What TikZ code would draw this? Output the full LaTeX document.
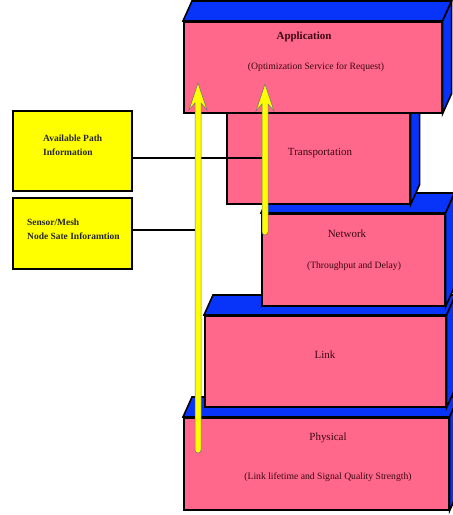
\documentclass[tikz,border=0pt]{standalone}
\usepackage{fontspec}
\setmainfont{Liberation Serif}
\usetikzlibrary{calc}
\definecolor{layerpink}{RGB}{255,104,138}
\definecolor{layerblue}{RGB}{8,52,250}
\definecolor{infoyellow}{RGB}{255,255,0}
\definecolor{labelred}{RGB}{60,8,20}
\newcommand\threedfaces[1]{%
  \filldraw[sideface] (#1.north west) -- ([shift={(9,-20)}]#1.north west) -- ([shift={(9,-20)}]#1.north east) -- (#1.north east) -- cycle;
  \filldraw[sideface] (#1.north east) -- ([shift={(9,-20)}]#1.north east) -- ([shift={(9,-20)}]#1.south east) -- (#1.south east) -- cycle;}
\newcommand\fatarrow[2]{%
  \filldraw[yellowarrow] ($(#1)+(-3,0)$) -- ($(#2)+(-3,20)$) -- ($(#2)+(-9,27)$) -- (#2) -- ($(#2)+(9,27)$) -- ($(#2)+(3,20)$) -- ($(#1)+(3,0)$) arc[start angle=0,end angle=180,radius=3] -- cycle;}
\tikzset{
  frontface/.style={rectangle, anchor=north west, fill=layerpink, draw=black, line width=1.6bp, inner sep=0pt},
  sideface/.style={fill=layerblue, draw=black, line width=1.6bp, line join=miter},
  infobox/.style={rectangle, anchor=north west, fill=infoyellow, draw=black, line width=1.8bp, inner sep=0pt},
  boxtext/.style={anchor=north west, inner sep=0pt, align=left, font=\fontsize{9.5}{13.5}\selectfont\bfseries, text=black!85},
  title/.style={font=\fontsize{11}{13}\selectfont, text=labelred, inner sep=0pt},
  subtitle/.style={font=\fontsize{9.7}{12}\selectfont, text=labelred, inner sep=0pt},
  yellowarrow/.style={fill=infoyellow, draw=black!55, line width=0.5bp},
  wire/.style={draw=black, line width=2bp}
}
\begin{document}
\begin{tikzpicture}[x=1bp,y=-1bp]
\useasboundingbox (0,0) rectangle (453,515);
% layers, bottom up
\node[frontface, minimum width=265bp, minimum height=92bp] (phys) at (183,417) {};
\threedfaces{phys}
\node[frontface, minimum width=241bp, minimum height=91bp] (link) at (204,315) {};
\threedfaces{link}
\node[frontface, minimum width=183bp, minimum height=92bp] (net) at (261,213) {};
\threedfaces{net}
\node[frontface, minimum width=183bp, minimum height=91bp] (trans) at (226,112) {};
\threedfaces{trans}
\node[frontface, minimum width=258bp, minimum height=91bp] (app) at (183,21) {};
\threedfaces{app}
% labels
\node[title, font=\fontsize{11}{13}\selectfont\bfseries] (appt) at (304,37) {Application};
\node[subtitle] (apps) at (316,67) {(Optimization Service for Request)};
\node[title] (transt) at (320,153) {Transportation};
\node[title] (nett) at (347,234) {Network};
\node[subtitle] (nets) at (354,266) {(Throughput and Delay)};
\node[title] (linkt) at (325,355) {Link};
\node[title] (physt) at (328,438) {Physical};
\node[subtitle] (physs) at (328,477) {(Link lifetime and Signal Quality Strength)};
% info boxes
\node[infobox, minimum width=119bp, minimum height=80bp] (avail) at (12,110) {};
\node[boxtext] (availt) at (43,135) {Available Path\\Information};
\node[infobox, minimum width=119bp, minimum height=71bp] (sensor) at (12,197) {};
\node[boxtext] (sensort) at (27,219) {Sensor/Mesh\\Node Sate Inforamtion};
% arrows
\coordinate (a1s) at (198,450);
\coordinate (a1e) at (198,83);
\coordinate (a2s) at (265,232);
\coordinate (a2e) at (265,84);
\coordinate (w1e) at (262,158);
\coordinate (w2e) at (196,230);
\draw[wire] (avail.east |- w1e) -- (w1e);
\draw[wire] (sensor.east |- w2e) -- (w2e);
\fatarrow{a1s}{a1e}
\fatarrow{a2s}{a2e}
\end{tikzpicture}
\end{document}
